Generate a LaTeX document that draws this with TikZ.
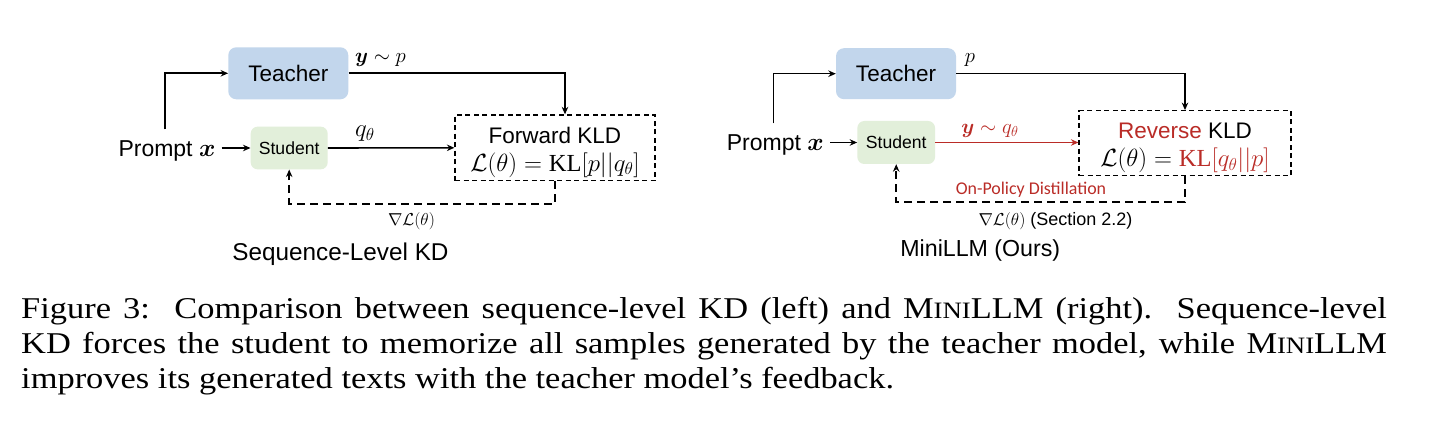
\documentclass[tikz,border=0pt]{standalone}
\usepackage{fontspec}
\usepackage{amsmath,amssymb,bm}
\setmainfont{Liberation Serif}
\newfontfamily\arialf{Liberation Sans}
\newfontfamily\calibf{Carlito}
\usetikzlibrary{arrows.meta,calc}
\definecolor{tblue}{HTML}{C2D6EC}
\definecolor{sgreen}{HTML}{E2EFDA}
\definecolor{kred}{HTML}{BA2C27}
\newcommand{\fsz}[1]{\fontsize{#1}{#1}\selectfont}
\newcommand{\mysc}[1]{{\fsz{23.5}#1}}
\begin{document}
\begin{tikzpicture}[x=1pt,y=-1pt,
  arr/.style={line width=1.6pt,-{Stealth[length=7.5pt,width=6.5pt]}},
  dsh/.style={line width=1.5pt,dash pattern=on 8pt off 5pt},
  teacherbox/.style={fill=tblue,rounded corners=8pt,inner sep=0pt,font=\arialf\fsz{22.5}},
  studentbox/.style={fill=sgreen,rounded corners=7pt,inner sep=0pt,font=\arialf\fsz{17.6}},
  kldbox/.style={draw,line width=1.2pt,dash pattern=on 5pt off 3.5pt,inner sep=0pt},
  lbl/.style={inner sep=0pt},
  captext/.style={inner sep=0pt,anchor=base west,font=\fsz{30.2}}]
\useasboundingbox[fill=white] (0,0) rectangle (1438,422);

% ---------- left diagram ----------
\node[teacherbox,minimum width=120pt,minimum height=52pt] (tL) at (288.3,73.3) {Teacher};
\node[studentbox,minimum width=77pt,minimum height=42.7pt] (sL) at (289.2,148) {Student};
\node[kldbox,minimum width=200pt,minimum height=65.7pt] (kL) at (555,147.8) {};
\node[lbl,font=\arialf\fsz{22.5}] (kLt) at (555,135.5) {Forward KLD};
\node[lbl,font=\fsz{24.5}] (kLf) at (555,165) {$\mathcal{L}(\theta)=\mathrm{KL}[p||q_\theta]$};
\node[lbl,anchor=base west,font=\arialf\fsz{23}] (pL) at (118.3,156.7) {Prompt $\bm{x}$};
\coordinate (pLa) at (221.7,148);
\coordinate (pLt) at (165,129.3);
\draw[arr] (pLa) -- (sL.west);
\draw[arr] (pLt) |- (tL.west);
\draw[arr] (tL.east) -| ([xshift=10pt]kL.north);
\node[lbl,font=\fsz{21.5}] (yL) at (380.5,60) {$\bm{y}\sim p$};
\draw[arr] (sL.east) -- (kL.west);
\node[lbl,font=\fsz{23.5}] (qL) at (365,134) {$q_\theta$};
\draw[dsh,arr] (kL.south) -- ++(0,22.6) -| (sL.south);
\node[lbl,font=\fsz{18}] (gL) at (411.5,221) {$\nabla\mathcal{L}(\theta)$};
\node[lbl,font=\arialf\fsz{24.3}] (tiL) at (340.5,254.5) {Sequence-Level KD};

% ---------- right diagram ----------
\node[teacherbox,minimum width=120pt,minimum height=51pt] (tR) at (896,73.7) {Teacher};
\node[studentbox,minimum width=77.7pt,minimum height=43pt] (sR) at (896.2,142.5) {Student};
\node[kldbox,minimum width=212pt,minimum height=65pt] (kR) at (1185,143.2) {};
\node[lbl,font=\arialf\fsz{22.5}] (kRt) at (1185,131) {\textcolor{kred}{Reverse} KLD};
\node[lbl,font=\fsz{24.5}] (kRf) at (1185,160.3) {$\mathcal{L}(\theta)=\color{kred}\mathrm{KL}[q_\theta||p]$};
\node[lbl,anchor=base west,font=\arialf\fsz{23}] (pR) at (726.7,150.7) {Prompt $\bm{x}$};
\coordinate (pRa) at (830,142.5);
\coordinate (pRt) at (773.3,123.3);
\draw[arr] (pRa) -- (sR.west);
\draw[arr] (pRt) |- (tR.west);
\draw[arr] (tR.east) -| (kR.north);
\node[lbl,font=\fsz{22}] (yR) at (970,60) {$p$};
\draw[arr,kred] (sR.east) -- (kR.west |- sR.east);
\node[lbl,font=\fsz{22.5},text=kred] (qR) at (990,131) {$\bm{y}\sim q_\theta$};
\draw[dsh,arr] (kR.south) -- ++(0,26) -| (sR.south);
\node[lbl,font=\calibf\fsz{17.9},text=kred] (opR) at (1031,190) {On-Policy Distillation};
\node[lbl,font=\arialf\fsz{18}] (gR) at (1055.5,221) {$\nabla\mathcal{L}(\theta)$ (Section 2.2)};
\node[lbl,font=\arialf\fsz{23.2}] (tiR) at (980.3,250) {MiniLLM (Ours)};

% ---------- caption ----------
\node[captext] (c1) at (21,318) {\scalebox{1.14}[1]{\makebox[1198pt][s]{Figure 3:\ \ Comparison between sequence-level KD (left) and M\mysc{INI}LLM (right).\ \ Sequence-level}}};
\node[captext] (c2) at (21,353) {\scalebox{1.14}[1]{\makebox[1198pt][s]{KD forces the student to memorize all samples generated by the teacher model, while M\mysc{INI}LLM}}};
\node[captext] (c3) at (21,388) {\scalebox{1.14}[1]{improves its generated texts with the teacher model's feedback.}};
\end{tikzpicture}
\end{document}
